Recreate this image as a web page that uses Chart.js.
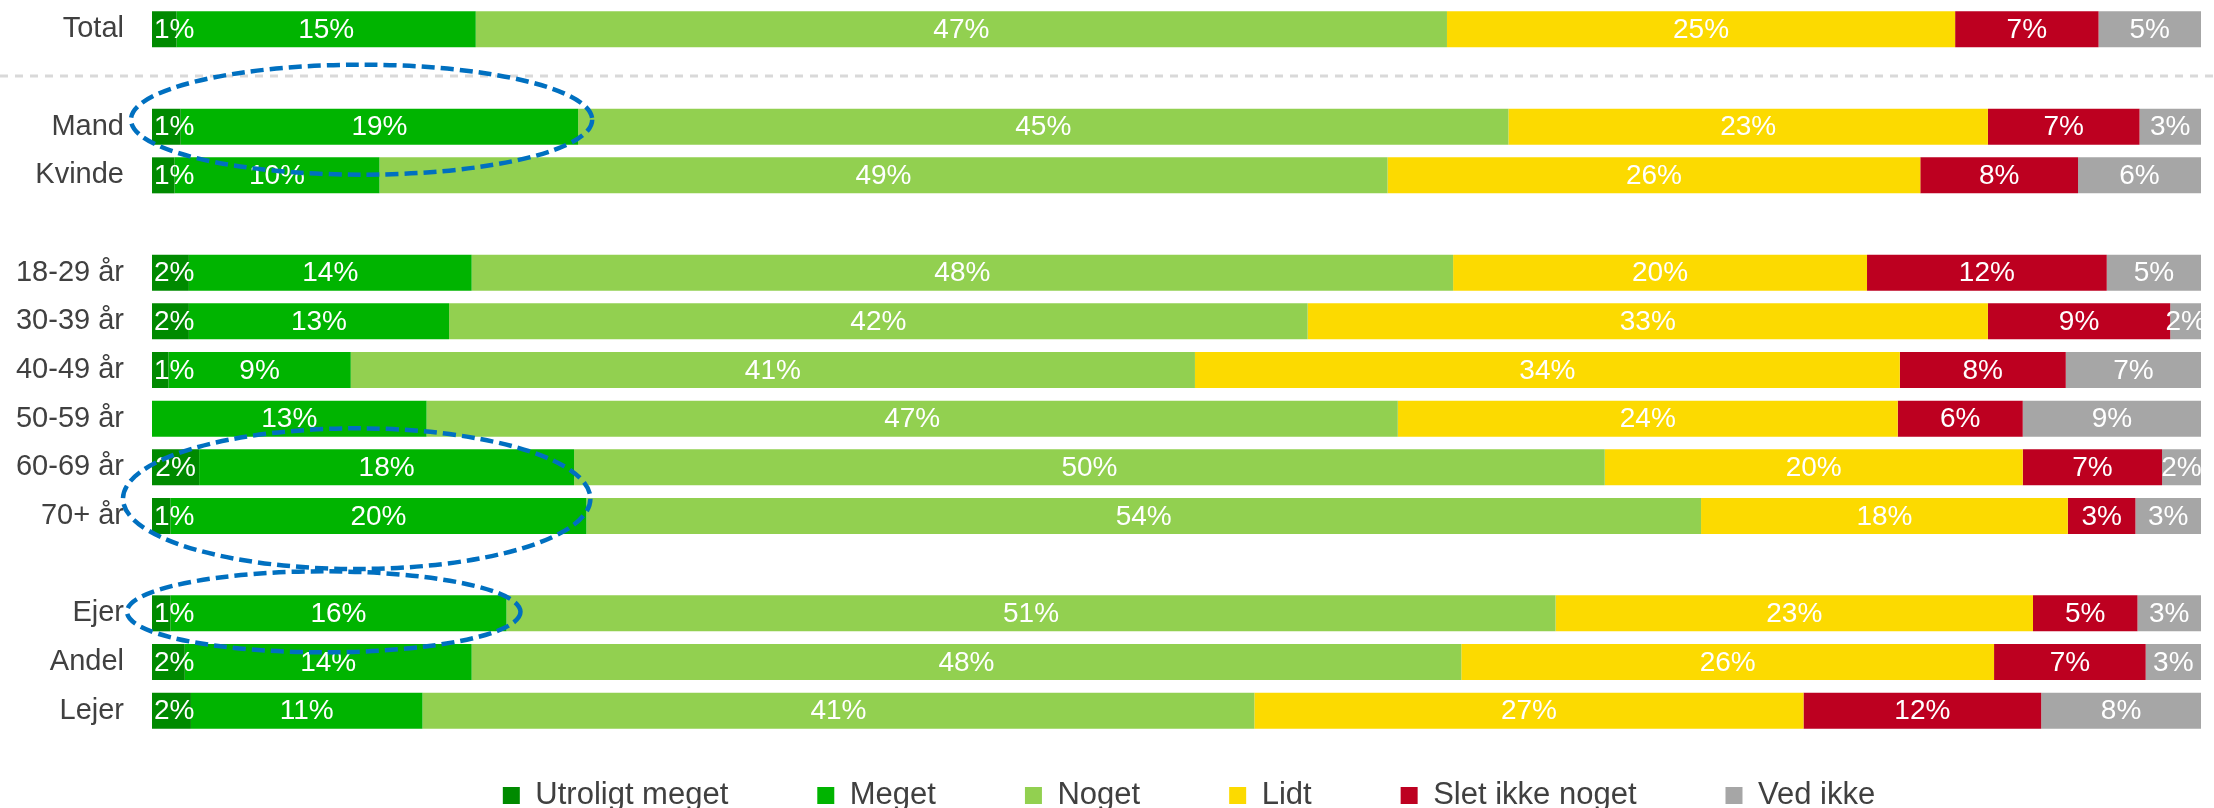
<!DOCTYPE html>
<html>
<head>
<meta charset="utf-8">
<script src="https://cdn.jsdelivr.net/npm/chart.js@4.4.1/dist/chart.umd.min.js"></script>
<style>
  html, body { margin: 0; padding: 0; background: #fff; overflow: hidden; }
  #wrap { width: 2214px; height: 808px; }
</style>
</head>
<body>
<div id="wrap"><canvas id="chart"></canvas></div>
<script>
// rows, '' = empty spacer row
const categories = ['Total', '', 'Mand', 'Kvinde', '', '18-29 år', '30-39 år', '40-49 år', '50-59 år', '60-69 år', '70+ år', '', 'Ejer', 'Andel', 'Lejer']

// shares in percent
const utroligtMeget = [1.2, null, 1.4, 1.1, null, 1.8, 1.8, 0.8, 0, 2.3, 0.9, null, 0.9, 1.6, 1.9]
const meget = [14.6, null, 19.4, 10.0, null, 13.8, 12.7, 8.9, 13.4, 18.3, 20.3, null, 16.4, 14.0, 11.3]
const noget = [47.4, null, 45.4, 49.2, null, 47.9, 41.9, 41.2, 47.4, 50.3, 54.4, null, 51.2, 48.3, 40.6]
const lidt = [24.8, null, 23.4, 26.0, null, 20.2, 33.2, 34.4, 24.4, 20.4, 17.9, null, 23.3, 26.0, 26.8]
const sletIkke = [7.0, null, 7.4, 7.7, null, 11.7, 8.9, 8.1, 6.1, 6.8, 3.3, null, 5.1, 7.4, 11.6]
const vedIkke = [5.0, null, 3.0, 6.0, null, 4.6, 1.5, 6.6, 8.7, 1.9, 3.2, null, 3.1, 2.7, 7.8]

// groups marked with a dashed ring: [first row, last row]
const circled = [['Mand', 'Mand'], ['60-69 år', '70+ år'], ['Ejer', 'Ejer']]

const FONT = '"Liberation Sans", Arial, sans-serif'

const segmentLabels = {
  id: 'segmentLabels',
  afterDatasetsDraw(chart) {
    const { ctx, chartArea } = chart
    ctx.save()
    ctx.beginPath()
    ctx.rect(chartArea.left, 0, chartArea.right - chartArea.left, chart.height)
    ctx.clip()
    ctx.font = '28px ' + FONT
    ctx.fillStyle = '#ffffff'
    ctx.textAlign = 'center'
    ctx.textBaseline = 'middle'
    chart.data.datasets.forEach((ds, i) => {
      chart.getDatasetMeta(i).data.forEach((bar, j) => {
        const v = ds.data[j]
        if (!v) return
        const txt = Math.round(v) + '%'
        const w = ctx.measureText(txt).width
        // small first segments: label pushed inside the plot like excel does
        const cx = Math.max((bar.x + bar.base) / 2, chartArea.left + w / 2 + 2)
        ctx.fillText(txt, cx, bar.y + 1)
      })
    })
    ctx.restore()
  }
}

// dashed separator under Total + blue dashed rings
const decorations = {
  id: 'decorations',
  afterDraw(chart) {
    const { ctx } = chart
    const x = chart.scales.x
    const y = chart.scales.y
    ctx.save()
    ctx.strokeStyle = '#d9d9d9'
    ctx.lineWidth = 3
    ctx.setLineDash([8, 7])
    ctx.beginPath()
    const sy = y.getPixelForValue(1) - 2
    ctx.moveTo(0, sy)
    ctx.lineTo(chart.width, sy)
    ctx.stroke()

    const pads = [
      { l: 21, r: 14, t: 44, b: 30 },
      { l: 29, r: 4, t: 21, b: 35 },
      { l: 25, r: 14, t: 24, b: 21 },
    ]
    const half = y.getPixelForValue(1) - y.getPixelForValue(0)
    ctx.strokeStyle = '#0070c0'
    ctx.lineWidth = 4.5
    ctx.setLineDash([13, 6])
    circled.forEach(([a, b], k) => {
      const i0 = categories.indexOf(a)
      const i1 = categories.indexOf(b)
      let end = 0
      for (let i = i0; i <= i1; i++) end = Math.max(end, utroligtMeget[i] + meget[i])
      const p = pads[k]
      const left = x.getPixelForValue(0) - p.l
      const right = x.getPixelForValue(end) + p.r
      const top = y.getPixelForValue(i0) - half * 0.37 - p.t
      const bottom = y.getPixelForValue(i1) + half * 0.37 + p.b
      ctx.beginPath()
      ctx.ellipse((left + right) / 2, (top + bottom) / 2, (right - left) / 2, (bottom - top) / 2, 0, 0, Math.PI * 2)
      ctx.stroke()
    })
    ctx.restore()
  }
}

// keep the legend small in the layout but draw its row near the bottom edge
const legendSpot = {
  id: 'legendSpot',
  afterLayout(chart) {
    const lg = chart.legend
    lg.top = lg.bottom - lg.options.labels.padding - 28
    lg.left = 177
  }
}

const mk = (label, data, color) => ({
  label,
  data,
  backgroundColor: color,
  borderWidth: 0,
  barPercentage: 0.74,
  categoryPercentage: 1,
})

new Chart(document.getElementById('chart'), {
  type: 'bar',
  data: {
    labels: categories,
    datasets: [
      mk('Utroligt meget', utroligtMeget, '#008a00'),
      mk('Meget', meget, '#00b400'),
      mk('Noget', noget, '#92d050'),
      mk('Lidt', lidt, '#fcda00'),
      mk('Slet ikke noget', sletIkke, '#bd0020'),
      mk('Ved ikke', vedIkke, '#a6a6a6'),
    ],
  },
  options: {
    indexAxis: 'y',
    responsive: true,
    maintainAspectRatio: false,
    animation: false,
    layout: { padding: { top: 5, right: 13 } },
    scales: {
      x: { stacked: true, min: 0, max: 100, display: false },
      y: {
        stacked: true,
        grid: { display: false, drawTicks: false },
        border: { display: false },
        ticks: { color: '#404040', font: { family: FONT, size: 29 }, padding: 28, autoSkip: false },
        afterFit: (s) => {
          s.width = 152
          s.paddingTop = 0
          s.paddingBottom = 0
        },
      },
    },
    plugins: {
      legend: {
        position: 'bottom',
        maxHeight: 73,
        labels: {
          boxWidth: 17,
          boxHeight: 17,
          padding: 89,
          color: '#404040',
          font: { family: FONT, size: 31 },
        },
      },
      tooltip: { enabled: false },
    },
  },
  plugins: [segmentLabels, decorations, legendSpot],
})
</script>
</body>
</html>
